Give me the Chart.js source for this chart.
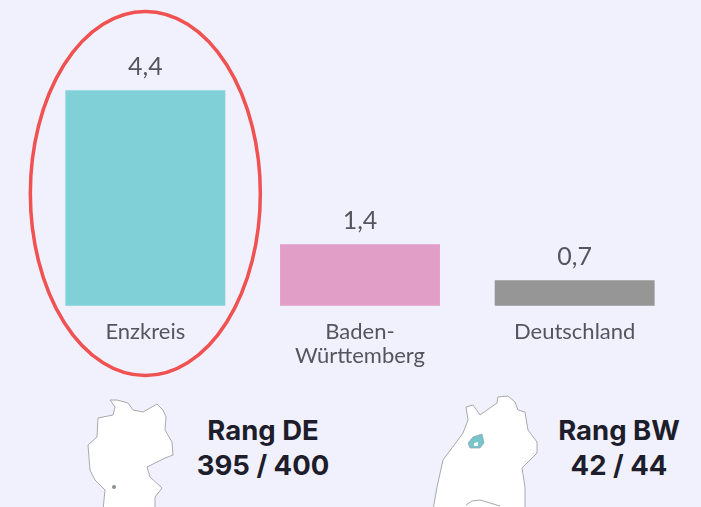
<!DOCTYPE html>
<html lang="de"><head><meta charset="utf-8">
<style>
html,body{margin:0;padding:0;background:#f1f1fd;overflow:hidden}
#wrap{position:relative;width:701px;height:507px;overflow:hidden}
#c{position:absolute;left:0;top:0}
.rang{position:absolute;font-family:Inter,sans-serif;font-weight:700;font-size:27.5px;line-height:35px;color:#1d1d2b;text-align:center;white-space:nowrap}
svg{position:absolute;left:0;top:0}
</style></head><body>
<div id="wrap">
<svg width="701" height="507" viewBox="0 0 701 507">
<polygon fill="#fff" stroke="#a9a9ad" stroke-width="1" points="110,400 117,400 128,403 133,410 143,412 157,404 163,410 166,417 165,430 172,442 173,455 165,458 147,467 150,477 162,488 155,497 155,510 103,510 105,490 95,480 90,470 88,445 97,437 98,418 113,415 115,407"/>
<circle cx="114" cy="487" r="2" fill="#8a8f92"/>
<polygon fill="#fff" stroke="#a9a9ad" stroke-width="1" points="498,397 508,396 515,402 518,410 525,412 528,430 537,442 537,453 522,468 525,487 525,510 433,510 437,487 443,460 463,433 468,420 466,407 473,405 480,415 497,403"/>
<polygon fill="#78c4cc" stroke="#8aa8ac" stroke-width="0.7" points="468,443 473,437 482,434 484,443 480,448 470,448"/>
<polygon fill="#fff" points="474,443 478,442 478,446 474,446"/>
<polyline fill="none" stroke="#a9a9ad" stroke-width="1" points="466,505 472,501 480,500 490,503 500,506"/>
</svg>
<canvas id="c" width="701" height="400"></canvas>
<div class="rang" style="left:163px;top:413px;width:200px">Rang DE<br>395 / 400</div>
<div class="rang" style="left:519px;top:413px;width:200px">Rang BW<br>42 / 44</div>
</div>
<script src="https://cdn.jsdelivr.net/npm/chart.js@4"></script>
<script>
const categories = [["Enzkreis"], ["Baden-", "Württemberg"], ["Deutschland"]];
const values = [4.4, 1.4, 0.7];
const valueLabels = ["4,4", "1,4", "0,7"];
const barColors = ["#80d0d8", "#e19fc7", "#969696"];
const axisMin = 0.2, axisMax = 6;
const FONT = "Lato, sans-serif";

const extras = {
  id: "extras",
  afterDatasetsDraw(chart) {
    const { ctx } = chart;
    const meta = chart.getDatasetMeta(0);
    ctx.save();
    ctx.fillStyle = "#55555f";
    ctx.font = "25px " + FONT;
    ctx.textAlign = "center";
    ctx.textBaseline = "alphabetic";
    meta.data.forEach((bar, i) => ctx.fillText(valueLabels[i], bar.x, bar.y - 15));
    const cx = meta.data[0].x;
    ctx.strokeStyle = "#f05252";
    ctx.lineWidth = 3.5;
    ctx.beginPath();
    ctx.ellipse(cx, 193.5, 115, 182, 0, 0, Math.PI * 2);
    ctx.stroke();
    ctx.restore();
  }
};

new Chart(document.getElementById("c"), {
  type: "bar",
  data: {
    labels: categories,
    datasets: [{ data: values, backgroundColor: barColors, borderWidth: 0,
      barPercentage: 0.745, categoryPercentage: 1 }]
  },
  plugins: [extras],
  options: {
    responsive: false,
    animation: false,
    layout: { padding: { left: 38, right: 19, top: 8, bottom: 18 } },
    plugins: { legend: { display: false }, tooltip: { enabled: false } },
    scales: {
      x: { grid: { display: false, drawTicks: false }, border: { display: false },
        ticks: { color: "#55555f", font: { family: FONT, size: 22, lineHeight: 1.05 }, padding: 15, maxRotation: 0, autoSkip: false } },
      y: { display: false, min: axisMin, max: axisMax }
    }
  }
});
</script>
</body></html>
